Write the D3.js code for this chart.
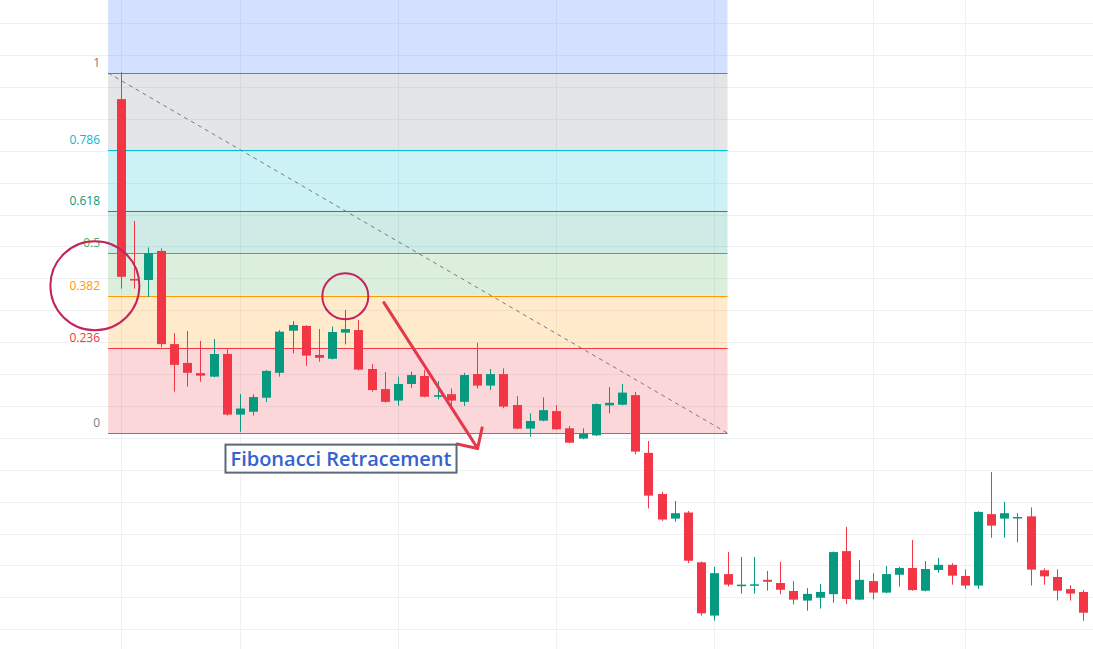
<!DOCTYPE html>
<html>
<head>
<meta charset="utf-8">
<script src="https://cdn.jsdelivr.net/npm/d3@7"></script>
<style>
  html, body { margin: 0; padding: 0; background: #fff; overflow: hidden; }
</style>
</head>
<body>
<div id="chart"></div>
<script>
// candle values, one entry per bar
const opens = [266.2, 209.8, 209.5, 218.6, 189.4, 183.5, 180.3, 179.2, 186.3, 167.3,
  168.2, 172.6, 180.4, 193.6, 195.1, 186.0, 184.8, 193.0, 193.8, 181.6,
  175.3, 171.7, 176.9, 179.4, 172.9, 173.7, 171.3, 180.0, 176.4, 180.0,
  170.3, 162.9, 165.4, 168.4, 163.0, 159.8, 160.8, 170.2, 170.4, 173.4,
  155.3, 142.4, 134.7, 136.6, 121.0, 104.3, 117.3, 113.5, 113.7, 115.5,
  114.5, 112.0, 109.0, 109.9, 111.0, 124.5, 109.3, 115.1, 111.5, 117.1,
  119.2, 112.1, 118.6, 120.2, 116.7, 113.7, 136.1, 134.7, 134.9, 135.4,
  118.5, 116.4, 112.6, 111.7, 107.6];
const highs = [274.6, 228.0, 219.7, 219.4, 192.8, 193.5, 190.4, 191.0, 187.8, 173.7,
  173.7, 181.3, 193.8, 196.6, 195.3, 194.1, 194.9, 200.1, 197.0, 183.1,
  180.7, 179.2, 180.8, 181.3, 177.8, 175.5, 180.4, 189.8, 181.6, 181.8,
  173.1, 167.7, 172.7, 170.3, 163.7, 163.0, 170.8, 175.9, 176.9, 174.4,
  159.0, 143.1, 140.2, 137.1, 121.2, 119.6, 124.2, 122.7, 122.7, 118.3,
  121.1, 115.1, 112.9, 114.2, 124.4, 132.1, 121.7, 117.6, 119.8, 119.6,
  128.0, 121.4, 122.4, 120.7, 118.8, 137.0, 149.3, 139.9, 136.4, 138.2,
  119.1, 118.8, 113.8, 112.3, 115.5];
const lows = [206.8, 206.8, 204.1, 188.4, 174.5, 176.1, 177.6, 179.0, 167.0, 161.9,
  167.0, 171.2, 179.2, 186.5, 182.6, 183.9, 184.6, 189.3, 181.2, 174.5,
  171.1, 170.1, 175.7, 172.7, 172.1, 169.8, 170.0, 175.5, 175.0, 169.3,
  162.7, 160.4, 165.2, 162.5, 158.3, 159.6, 160.6, 167.7, 170.2, 154.9,
  137.9, 134.0, 133.7, 120.7, 104.3, 102.7, 113.4, 111.2, 111.2, 112.1,
  111.0, 107.8, 105.8, 106.5, 108.3, 107.9, 109.1, 109.4, 111.3, 113.4,
  112.1, 111.9, 117.7, 114.0, 112.7, 112.7, 128.7, 128.7, 127.3, 113.7,
  114.0, 109.0, 109.0, 102.7, 106.1];
const closes = [210.5, 209.5, 217.9, 189.4, 182.9, 180.4, 179.5, 186.3, 167.3, 169.2,
  172.8, 181.0, 193.3, 195.4, 185.8, 185.1, 193.2, 194.1, 181.4, 175.0,
  171.3, 176.9, 179.7, 172.9, 173.4, 171.7, 179.7, 176.4, 180.0, 169.8,
  162.9, 165.3, 168.7, 162.7, 158.5, 161.3, 170.6, 171.0, 174.2, 155.7,
  141.9, 134.4, 136.4, 121.5, 105.0, 117.6, 114.0, 114.0, 114.1, 114.9,
  112.4, 109.3, 111.1, 111.7, 124.2, 109.5, 115.5, 111.5, 117.3, 119.2,
  112.3, 118.9, 120.2, 116.8, 113.7, 136.8, 132.5, 136.4, 135.2, 118.7,
  116.6, 112.1, 111.2, 105.2, 113.9];

// grid positions (bar index of vertical lines, price of horizontal lines)
const gridBars = [0, 9, 21, 33, 45, 57, 64];
const priceTicks = [100, 110, 120, 130, 140, 150, 160, 170, 180, 190,
  200, 210, 220, 230, 240, 250, 260, 270, 280, 290];

// fibonacci retracement tool
const fibLevels = [0, 0.236, 0.382, 0.5, 0.618, 0.786, 1, 1.618];
const fibLabels = ["0", "0.236", "0.382", "0.5", "0.618", "0.786", "1", "1.618"];
const fibStart = { bar: -1, price: 274.4 };
const fibEnd = { bar: 46, price: 161.5 };

// annotations
const circleMarks = [{ bar: -2.0, price: 207.7 }, { bar: 17.0, price: 204.4 }];
const arrowFrom = { bar: 19.93, price: 202.4 };
const arrowTo = { bar: 27.04, price: 156.7 };
const noteAnchor = { bar: 16.67, price: 153.5 };
const noteText = "Fibonacci Retracement";

function main() {
    const width = 1093;
    const height = 649;

    const fibColors = ["#787b86", "#f23645", "#ff9800", "#4caf50", "#089981", "#00bcd4", "#787b86", "#2962ff"];
    const upColor = "#089981";
    const downColor = "#f23645";

    const svg = d3.select("#chart")
        .append("svg")
        .attr("width", width)
        .attr("height", height)
        .style("display", "block");

    const x = d3.scaleLinear().domain([-9.2, 73.73]).range([0, width]);
    const y = d3.scaleLinear().domain([93.82, 297.27]).range([height, 0]);

    // grid
    svg.append("g")
        .selectAll("line")
        .data(priceTicks)
        .enter()
        .append("line")
        .attr("x1", 0)
        .attr("x2", width)
        .attr("y1", d => Math.round(y(d)) + 0.5)
        .attr("y2", d => Math.round(y(d)) + 0.5)
        .attr("stroke", "#eef0f3")
        .attr("stroke-width", 1);

    svg.append("g")
        .selectAll("line")
        .data(gridBars)
        .enter()
        .append("line")
        .attr("x1", d => Math.round(x(d)) + 0.5)
        .attr("x2", d => Math.round(x(d)) + 0.5)
        .attr("y1", 0)
        .attr("y2", height)
        .attr("stroke", "#eef0f3")
        .attr("stroke-width", 1);

    // fib bands + lines
    const fx1 = x(fibStart.bar);
    const fx2 = x(fibEnd.bar);
    const range = fibStart.price - fibEnd.price;
    const levelPrice = l => fibEnd.price + l * range;

    const fib = svg.append("g");
    fib.selectAll("rect")
        .data(fibLevels.slice(0, -1))
        .enter()
        .append("rect")
        .attr("x", fx1)
        .attr("width", fx2 - fx1)
        .attr("y", (d, i) => y(levelPrice(fibLevels[i + 1])))
        .attr("height", (d, i) => y(levelPrice(d)) - y(levelPrice(fibLevels[i + 1])))
        .attr("fill", (d, i) => fibColors[i + 1])
        .attr("fill-opacity", 0.2);

    fib.selectAll("line")
        .data(fibLevels.slice(0, -1))
        .enter()
        .append("line")
        .attr("x1", fx1)
        .attr("x2", fx2)
        .attr("y1", d => Math.round(y(levelPrice(d))) + 0.5)
        .attr("y2", d => Math.round(y(levelPrice(d))) + 0.5)
        .attr("stroke", (d, i) => fibColors[i])
        .attr("stroke-width", 1);

    fib.selectAll("text")
        .data(fibLevels.slice(0, -1))
        .enter()
        .append("text")
        .attr("x", fx1 - 8)
        .attr("y", d => y(levelPrice(d)) - 6)
        .attr("text-anchor", "end")
        .attr("font-family", "'Open Sans', sans-serif")
        .attr("font-size", 12)
        .attr("fill", (d, i) => fibColors[i])
        .text((d, i) => fibLabels[i]);

    // dashed trend line of the tool
    svg.append("line")
        .attr("x1", fx1)
        .attr("y1", y(fibStart.price))
        .attr("x2", fx2)
        .attr("y2", y(fibEnd.price))
        .attr("stroke", "#787b86")
        .attr("stroke-width", 1)
        .attr("stroke-dasharray", "4,4");

    // candles
    const bars = opens.map((o, i) => ({ i: i, o: o, h: highs[i], l: lows[i], c: closes[i] }));
    const candle = svg.append("g")
        .selectAll("g")
        .data(bars)
        .enter()
        .append("g");

    candle.append("line")
        .attr("x1", d => Math.round(x(d.i)) + 0.5)
        .attr("x2", d => Math.round(x(d.i)) + 0.5)
        .attr("y1", d => y(d.h))
        .attr("y2", d => y(d.l))
        .attr("stroke", d => d.c >= d.o ? upColor : downColor)
        .attr("stroke-width", 1);

    candle.append("rect")
        .attr("x", d => Math.round(x(d.i)) - 4)
        .attr("width", 9)
        .attr("y", d => y(Math.max(d.o, d.c)))
        .attr("height", d => Math.max(1.5, Math.abs(y(d.o) - y(d.c))))
        .attr("fill", d => d.c >= d.o ? upColor : downColor);

    // circles
    svg.append("g")
        .selectAll("circle")
        .data(circleMarks)
        .enter()
        .append("circle")
        .attr("cx", d => x(d.bar))
        .attr("cy", d => y(d.price))
        .attr("r", (d, i) => i === 0 ? 44.5 : 23)
        .attr("fill", "none")
        .attr("stroke", "#c4235b")
        .attr("stroke-width", 2);

    // arrow
    const ax1 = x(arrowFrom.bar), ay1 = y(arrowFrom.price);
    const ax2 = x(arrowTo.bar), ay2 = y(arrowTo.price);
    const ang = Math.atan2(ay2 - ay1, ax2 - ax1);
    const head = 21;
    const arrow = svg.append("g")
        .attr("stroke", "#e3394a")
        .attr("stroke-width", 3)
        .attr("stroke-linecap", "round")
        .attr("fill", "none");
    arrow.append("line")
        .attr("x1", ax1).attr("y1", ay1)
        .attr("x2", ax2).attr("y2", ay2);
    arrow.append("path")
        .attr("stroke-linejoin", "round")
        .attr("d", d3.line()([
            [ax2 + head * Math.cos(ang + Math.PI - Math.PI / 4), ay2 + head * Math.sin(ang + Math.PI - Math.PI / 4)],
            [ax2, ay2],
            [ax2 + head * Math.cos(ang + Math.PI + Math.PI / 4), ay2 + head * Math.sin(ang + Math.PI + Math.PI / 4)]
        ]));

    // note box
    const note = svg.append("g");
    const noteLabel = note.append("text")
        .attr("x", x(noteAnchor.bar))
        .attr("y", y(noteAnchor.price))
        .attr("dy", "0.35em")
        .attr("text-anchor", "middle")
        .attr("font-family", "'Open Sans', sans-serif")
        .attr("font-weight", 600)
        .attr("font-size", 20)
        .attr("fill", "#3562cc")
        .text(noteText);
    const bb = noteLabel.node().getBBox();
    note.insert("rect", "text")
        .attr("x", bb.x - 5)
        .attr("y", y(noteAnchor.price) - 14)
        .attr("width", bb.width + 10)
        .attr("height", 28)
        .attr("fill", "#fff")
        .attr("stroke", "#5b6877")
        .attr("stroke-width", 2);
}

main();
</script>
</body>
</html>
